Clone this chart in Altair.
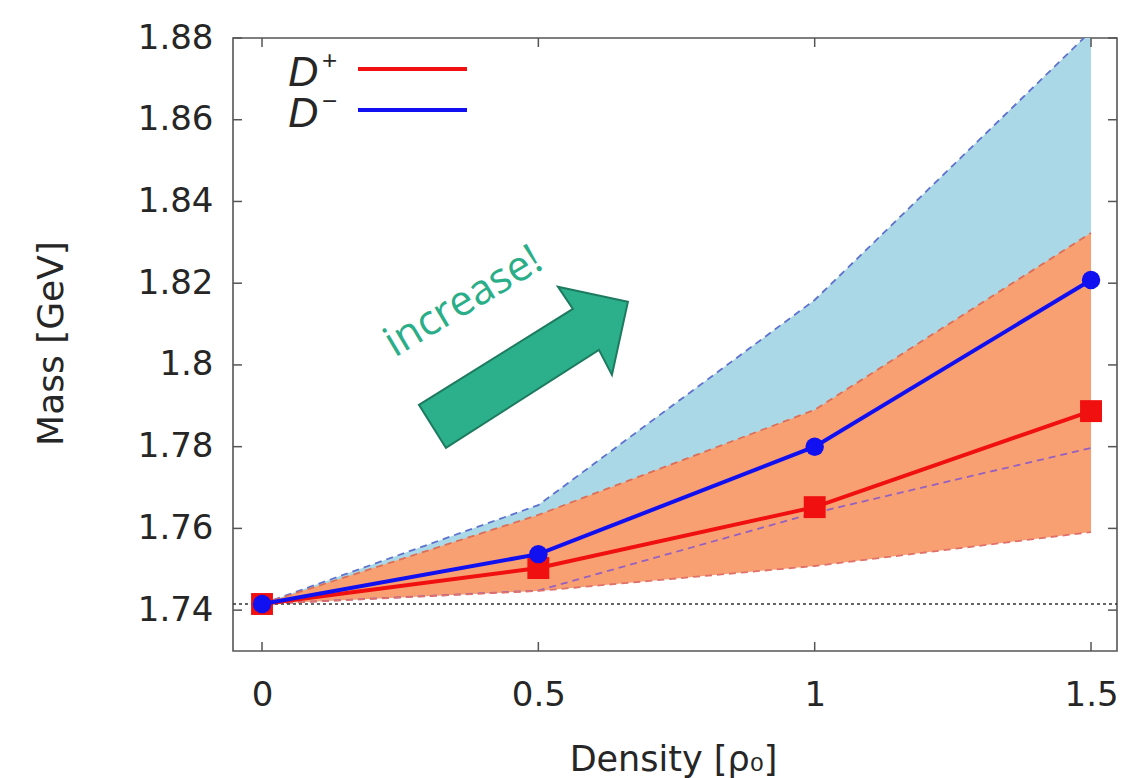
import altair as alt
import pandas as pd

# ---------------- data ----------------
density = [0.0, 0.5, 1.0, 1.5]
m_dplus = [1.7415, 1.7503, 1.7652, 1.7887]
m_dminus = [1.7415, 1.7537, 1.7800, 1.8208]
dminus_band_lo = [1.7415, 1.7448, 1.7638, 1.7797]
dminus_band_hi = [1.7415, 1.7657, 1.8159, 1.8817]
dplus_band_lo = [1.7415, 1.7447, 1.7508, 1.7591]
dplus_band_hi = [1.7415, 1.7633, 1.7890, 1.8323]
vacuum_mass = [1.7415]

x_ticks = [0, 0.5, 1, 1.5]
y_ticks = [1.74, 1.76, 1.78, 1.80, 1.82, 1.84, 1.86, 1.88]

legend_names = ["D", "D"]
legend_sups = ["+", "\u2212"]
legend_colors = ["#f01010", "#1010f0"]

annot_text = "increase!"
annot_text_pos = [0.3760, 1.8128]
arrow_pos = [0.473, 1.7994]

# ---------------- layout / style ----------------
W, H = 884, 613
FONT = "DejaVu Sans"
INK = "#262626"
FRAME = "#555555"
TICK = 9

x_scale = alt.Scale(domain=[-0.0525, 1.547], nice=False, zero=False)
y_scale = alt.Scale(domain=[1.73, 1.88], nice=False, zero=False)

x_axis = alt.Axis(
    values=x_ticks, format="~g", title="Density [\u03c1\u2080]",
    labelFont=FONT, labelFontSize=34, labelColor=INK, labelPadding=27,
    ticks=False, tickSize=0, domain=False, grid=False,
    titleFont=FONT, titleFontSize=35, titleFontWeight="normal", titleColor=INK,
    titleX=440, titleY=119, titleAlign="center", titleBaseline="alphabetic",
)
y_axis = alt.Axis(
    values=y_ticks, format="~g", title="Mass [GeV]",
    labelFont=FONT, labelFontSize=34, labelColor=INK, labelPadding=20,
    ticks=False, tickSize=0, domain=False, grid=False,
    titleFont=FONT, titleFontSize=36, titleFontWeight="normal", titleColor=INK,
    titleX=-171, titleY=305, titleAlign="center", titleBaseline="alphabetic",
    titleAngle=270,
)


def xenc(field):
    return alt.X(field, scale=x_scale, axis=x_axis)


def yenc(field):
    return alt.Y(field, scale=y_scale, axis=y_axis)


df = pd.DataFrame({
    "density": density,
    "dplus": m_dplus,
    "dminus": m_dminus,
    "b_lo": dminus_band_lo,
    "b_hi": dminus_band_hi,
    "o_lo": dplus_band_lo,
    "o_hi": dplus_band_hi,
})
base = alt.Chart(df)

layers = []
# bands
layers.append(base.mark_area(color="#abd8e6", opacity=1, clip=True).encode(
    x=xenc("density:Q"), y=yenc("b_hi:Q"), y2=alt.Y2("b_lo:Q")))
layers.append(base.mark_area(color="#f9a073", opacity=1, clip=True).encode(
    x=xenc("density:Q"), y=yenc("o_hi:Q"), y2=alt.Y2("o_lo:Q")))
# dashed band borders
for field, col in [("b_hi", "#5f72cf"), ("b_lo", "#9560c0"),
                   ("o_hi", "#dd6e58"), ("o_lo", "#e0706a")]:
    layers.append(base.mark_line(color=col, strokeWidth=1.8, strokeDash=[7, 5],
                                 clip=True).encode(
        x=xenc("density:Q"), y=yenc(f"{field}:Q")))

# vacuum mass dotted line
layers.append(alt.Chart(pd.DataFrame({"m": vacuum_mass})).mark_rule(
    color="#333333", strokeWidth=1.3, strokeDash=[3, 3]).encode(
    y=yenc("m:Q"), x=alt.value(0), x2=alt.value(W)))

# D+ line and squares
layers.append(base.mark_line(color=legend_colors[0], strokeWidth=4).encode(
    x=xenc("density:Q"), y=yenc("dplus:Q")))
layers.append(base.mark_point(shape="square", filled=True, size=480, opacity=1,
                              color=legend_colors[0]).encode(
    x=xenc("density:Q"), y=yenc("dplus:Q")))
# D- line and circles
layers.append(base.mark_line(color=legend_colors[1], strokeWidth=4).encode(
    x=xenc("density:Q"), y=yenc("dminus:Q")))
layers.append(base.mark_point(shape="circle", filled=True, size=340, opacity=1,
                              color=legend_colors[1]).encode(
    x=xenc("density:Q"), y=yenc("dminus:Q")))

# inward ticks on all four sides
yt = alt.Chart(pd.DataFrame({"t": y_ticks}))
xt = alt.Chart(pd.DataFrame({"t": x_ticks}))
layers.append(yt.mark_rule(color=FRAME, strokeWidth=1.5).encode(
    y=yenc("t:Q"), x=alt.value(0), x2=alt.value(TICK)))
layers.append(yt.mark_rule(color=FRAME, strokeWidth=1.5).encode(
    y=yenc("t:Q"), x=alt.value(W - TICK), x2=alt.value(W)))
layers.append(xt.mark_rule(color=FRAME, strokeWidth=1.5).encode(
    x=xenc("t:Q"), y=alt.value(H - TICK), y2=alt.value(H)))
layers.append(xt.mark_rule(color=FRAME, strokeWidth=1.5).encode(
    x=xenc("t:Q"), y=alt.value(0), y2=alt.value(TICK)))

# legend (gnuplot style: label then line sample)
for i, (name, sup, col) in enumerate(zip(legend_names, legend_sups, legend_colors)):
    row = alt.Chart(pd.DataFrame({"name": [name], "sup": [sup]}))
    base_y = 48 + i * 41
    layers.append(row.mark_text(font="Liberation Sans", fontStyle="italic",
                                fontSize=42, align="left", baseline="alphabetic",
                                color=INK).encode(
        text="name:N", x=alt.value(55), y=alt.value(base_y)))
    layers.append(row.mark_text(font="Liberation Sans", fontSize=26, align="left",
                                baseline="middle", color=INK).encode(
        text="sup:N", x=alt.value(89), y=alt.value(base_y - 25)))
    layers.append(row.mark_rule(color=col, strokeWidth=4).encode(
        x=alt.value(125), x2=alt.value(234), y=alt.value(base_y - 17)))

# annotation arrow + text
ARROW = ("M -0.995 0.357 L 0.471 -0.557 L 0.329 -0.767 L 0.995 -0.624 "
         "L 0.843 0.071 L 0.719 -0.167 L -0.738 0.767 Z")
ann = alt.Chart(pd.DataFrame({"x": [arrow_pos[0]], "y": [arrow_pos[1]]}))
layers.append(ann.mark_point(shape=ARROW, size=44100, filled=True, opacity=1,
                             fill="#2bb08b", stroke="#1e7a5e", strokeWidth=2).encode(
    x=xenc("x:Q"), y=yenc("y:Q")))
txt = alt.Chart(pd.DataFrame({"x": [annot_text_pos[0]], "y": [annot_text_pos[1]],
                              "t": [annot_text]}))
layers.append(txt.mark_text(font="Open Sans", fontSize=42, angle=329,
                            align="center", baseline="alphabetic",
                            color="#2aae88").encode(
    x=xenc("x:Q"), y=yenc("y:Q"), text="t:N"))

chart = alt.layer(*layers).properties(
    width=W, height=H,
    autosize=alt.AutoSizeParams(type="none"),
    padding={"left": 225, "top": 30, "right": 7, "bottom": 127},
    background="white",
).configure_view(stroke=FRAME, strokeWidth=1.6)

chart.save("out.html", embed_options={"renderer": "svg", "actions": False})
